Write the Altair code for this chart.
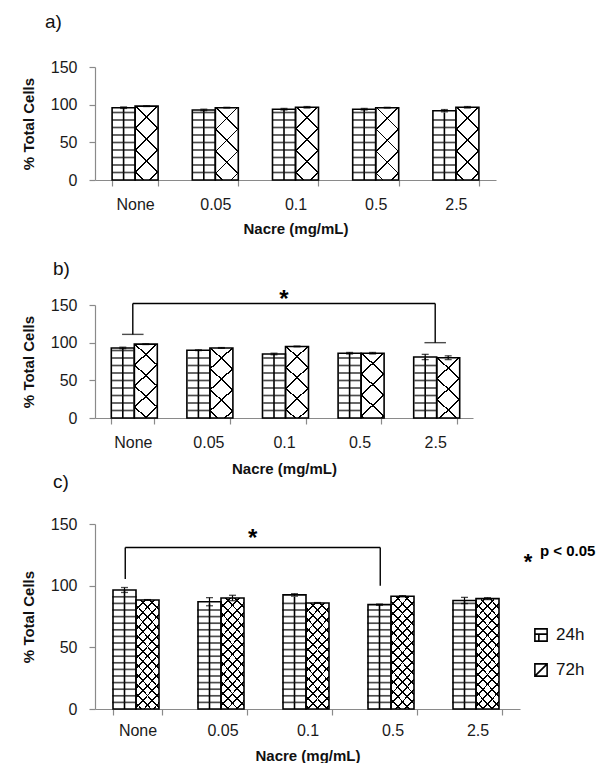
import math
import altair as alt

# ---------------- data ----------------
CATS = ["None", "0.05", "0.1", "0.5", "2.5"]
SERIES = ["24h", "72h"]

A_24 = [96, 93, 94, 94, 92]
A_24_ERR = [1, 1, 1, 1, 1.5]
A_72 = [98, 96, 96.5, 96, 96.5]
A_72_ERR = [0.5, 0.5, 1, 0.5, 1]

B_24 = [93, 90, 85, 86, 81]
B_24_ERR = [1, 0.5, 1, 1, 3.5]
B_72 = [98, 93, 95, 86, 80]
B_72_ERR = [0.5, 0.5, 0.5, 1, 2.5]

C_24 = [96.5, 87, 92.5, 84.6, 88]
C_24_ERR = [2, 3.3, 1, 0.5, 2.5]
C_72 = [88.4, 90, 86, 91.4, 89.5]
C_72_ERR = [0.3, 2.2, 0.3, 0.5, 0.8]

# significance brackets: start cat, end cat, bracket level, left drop, right drop, star level
B_SIG = ["None", "2.5", 152, 111, 100, 163]
C_SIG = ["None", "0.5", 131, 105.5, 100, 142]

Y_MAX = 150
Y_TICKS = [0, 50, 100, 150]
X_TITLE = "Nacre (mg/mL)"
Y_TITLE = "% Total Cells"
P_NOTE = "p < 0.05"
STAR = "*"

# ---------------- style ----------------
FONT = "Liberation Sans"
GRAY = "#8a8a8a"
CLEAR = "rgba(255,255,255,0)"


def stop(o, c):
    return {"offset": round(min(max(o, 0), 1), 5), "color": c}


def diag_grad(w, h, sp, lw, rising, bg):
    """Diagonal hatch lines (45 degrees) as a linear gradient with hard stops."""
    a = w * (w + h) / (w * w + h * h)
    L = w + h
    if rising:
        x1, y1, x2, y2 = 0, 1, a, 1 - a * h / w
        pos = (h + w) % sp
    else:
        x1, y1, x2, y2 = 0, 0, a, a * h / w
        pos = 0.0
    d = lw * 1.4142 / L / 2
    stops = [stop(0, bg)]
    while pos < L + sp:
        t = pos / L
        if t - d < 1:
            stops += [stop(t - d, bg), stop(t - d, "black"), stop(t + d, "black"), stop(t + d, bg)]
        pos += sp
    stops.append(stop(1, bg))
    return {"gradient": "linear", "x1": x1, "y1": y1, "x2": round(x2, 5), "y2": round(y2, 5),
            "stops": stops}


def make_panel(v24, e24, v72, e72, width, height, group_px, brick_row, hatch_sp,
               label, label_dx, title_offset, lab_pad, tit_pad, sig=None, sig_shift=0.0,
               caps=False, extra=None):
    step = width / len(CATS)
    pi = 1 - group_px / step
    bw = group_px / 2
    rh = brick_row * Y_MAX / height  # brick course height in data units

    rows, mortar, joints = [], [], []
    for i, c in enumerate(CATS):
        for s, vals, errs in (("24h", v24, e24), ("72h", v72, e72)):
            v, e = vals[i], errs[i]
            h = v * height / Y_MAX
            if s == "24h":
                g1, g2 = "white", CLEAR
                k = 0
                while k * rh < v - 0.3 * rh:
                    top = min((k + 1) * rh, v)
                    if k > 0:
                        mortar.append({"cat": c, "series": s, "y": k * rh})
                    joints.append({"cat": c, "series": s, "y": k * rh, "y2": top, "odd": k % 2})
                    k += 1
            else:
                g1 = diag_grad(bw, h, hatch_sp, 1.35, False, "white")
                g2 = diag_grad(bw, h, hatch_sp, 1.35, True, CLEAR)
            rows.append({"cat": c, "series": s, "value": v, "lo": v - e, "hi": v + e,
                         "g1": g1, "g2": g2})

    xsc = alt.Scale(domain=CATS, paddingInner=pi, paddingOuter=pi / 2)
    xax = alt.Axis(tickBand="extent", labelAngle=0, labelPadding=lab_pad, titlePadding=tit_pad)

    def X(f):
        return alt.X(f"{f}:N", scale=xsc, axis=xax, title=X_TITLE)

    ysc = alt.Scale(domain=[0, Y_MAX], nice=False, zero=True)
    yax = alt.Axis(values=Y_TICKS)

    def Y(f):
        return alt.Y(f"{f}:Q", scale=ysc, axis=yax, title=Y_TITLE, stack=None)

    XO = alt.XOffset("series:N", scale=alt.Scale(domain=SERIES, paddingInner=0, paddingOuter=0))

    base = alt.Chart(alt.Data(values=rows))
    mort = alt.Chart(alt.Data(values=mortar))
    jnt = alt.Chart(alt.Data(values=joints))
    layers = [
        base.mark_bar(strokeWidth=0).encode(x=X("cat"), xOffset=XO, y=Y("value"),
                                            fill=alt.Fill("g1:N", scale=None)),
        mort.mark_tick(color="black", orient="horizontal", size=bw, thickness=1.7).encode(
            x=X("cat"), xOffset=XO, y=Y("y")),
        jnt.transform_filter("datum.odd == 0").mark_rule(
            color="black", strokeWidth=1.6, xOffset=-0.2 * bw).encode(
            x=X("cat"), xOffset=XO, y=Y("y"), y2=alt.Y2("y2")),
        jnt.transform_filter("datum.odd == 1").mark_rule(
            color="black", strokeWidth=1.6, xOffset=0.24 * bw).encode(
            x=X("cat"), xOffset=XO, y=Y("y"), y2=alt.Y2("y2")),
        base.mark_bar(stroke="black", strokeWidth=1.6).encode(
            x=X("cat"), xOffset=XO, y=Y("value"), fill=alt.Fill("g2:N", scale=None)),
        base.mark_rule(color="black", strokeWidth=1.2).encode(
            x=X("cat"), xOffset=XO, y=Y("lo"), y2=alt.Y2("hi")),
        base.mark_tick(color="black", orient="horizontal", size=7, thickness=1.3).encode(
            x=X("cat"), xOffset=XO, y=Y("hi")),
        base.mark_tick(color="black", orient="horizontal", size=7, thickness=1.3).encode(
            x=X("cat"), xOffset=XO, y=Y("lo")),
    ]

    if sig is not None:
        c0, c1, top, d0, d1, star = sig
        hd = alt.Data(values=[{"a": c0, "b": c1, "y": top}])
        layers.append(alt.Chart(hd).mark_rule(color="black", strokeWidth=1.4, xOffset=sig_shift,
                                              x2Offset=sig_shift).encode(
            x=X("a"), x2=alt.X2("b"), y=Y("y")))
        vd = alt.Data(values=[{"c": c0, "top": top, "drop": d0}, {"c": c1, "top": top, "drop": d1}])
        layers.append(alt.Chart(vd).mark_rule(color="black", strokeWidth=1.4, xOffset=sig_shift).encode(
            x=X("c"), y=Y("top"), y2=alt.Y2("drop")))
        if caps:
            layers.append(alt.Chart(vd).mark_tick(color="black", orient="horizontal", size=group_px / 2,
                                                  thickness=1.4, xOffset=sig_shift).encode(
                x=X("c"), y=Y("drop")))
        mid = (CATS.index(c0) + CATS.index(c1)) / 2
        mcat = CATS[int(math.floor(mid))]
        sdx = (mid - math.floor(mid)) * step + sig_shift
        sd = alt.Data(values=[{"c": mcat, "y": star, "t": STAR}])
        layers.append(alt.Chart(sd).mark_text(fontSize=24, fontWeight="bold", font=FONT, dx=sdx, dy=5,
                                              baseline="middle", color="black").encode(
            x=X("c"), y=Y("y"), text="t:N"))

    if extra:
        layers += extra

    return alt.layer(*layers).properties(
        width=width, height=height,
        title=alt.TitleParams(label, anchor="start", frame="group", dx=label_dx,
                              offset=title_offset, fontSize=19, font=FONT,
                              fontWeight="normal", color="#111"))


# legend & note for panel c (pixel offsets relative to the plot area)
ICON_24 = "M-1,-1H1V1H-1Z M-1,-0.15H1 M-0.35,-0.15V1"
ICON_72 = "M-1,-1H1V1H-1Z M-1,1L1,-1"
one = alt.Data(values=[{"s": SERIES[0]}])
two = alt.Data(values=[{"s": SERIES[1]}])
star_d = alt.Data(values=[{"t": STAR, "p": P_NOTE}])
c_extra = [
    alt.Chart(one).mark_point(shape=ICON_24, size=150, filled=False, stroke="black",
                              strokeWidth=1.6, opacity=1).encode(x=alt.value(446), y=alt.value(111)),
    alt.Chart(two).mark_point(shape=ICON_72, size=150, filled=False, stroke="black",
                              strokeWidth=1.6, opacity=1).encode(x=alt.value(446), y=alt.value(146)),
    alt.Chart(one).mark_text(align="left", baseline="middle", fontSize=17, font=FONT,
                             color="#111").encode(x=alt.value(461), y=alt.value(111), text="s:N"),
    alt.Chart(two).mark_text(align="left", baseline="middle", fontSize=17, font=FONT,
                             color="#111").encode(x=alt.value(461), y=alt.value(146), text="s:N"),
    alt.Chart(star_d).mark_text(align="center", baseline="middle", fontSize=22, fontWeight="bold",
                                font=FONT, color="black").encode(x=alt.value(433), y=alt.value(38),
                                                                 text="t:N"),
    alt.Chart(star_d).mark_text(align="left", baseline="middle", fontSize=15, fontWeight="bold",
                                font=FONT, color="black").encode(x=alt.value(445), y=alt.value(27),
                                                                 text="p:N"),
]

c_label = alt.Data(values=[{"t": "c)"}])
b_extra = [
    alt.Chart(c_label).mark_text(align="left", baseline="middle", fontSize=19, font=FONT,
                                 color="#111").encode(x=alt.value(-42), y=alt.value(177), text="t:N"),
]

pa = make_panel(A_24, A_24_ERR, A_72, A_72_ERR, width=401, height=113, group_px=46,
                brick_row=7.5, hatch_sp=22, label="a)", label_dx=-50, title_offset=27,
                lab_pad=10, tit_pad=9)
pb = make_panel(B_24, B_24_ERR, B_72, B_72_ERR, width=378, height=113, group_px=43,
                brick_row=7.5, hatch_sp=21, label="b)", label_dx=-42, title_offset=9,
                lab_pad=10, tit_pad=11, sig=B_SIG, sig_shift=0.0, caps=True, extra=b_extra)
pc = make_panel(C_24, C_24_ERR, C_72, C_72_ERR, width=425, height=185, group_px=49,
                brick_row=6.6, hatch_sp=9.8, label="", label_dx=0, title_offset=0,
                lab_pad=7, tit_pad=10, sig=C_SIG, sig_shift=-12.25, extra=c_extra)

chart = alt.vconcat(pa, pb, pc, spacing=24).properties(
    padding={"left": 13, "top": 5, "right": 0, "bottom": 0}
).configure_view(stroke=None).configure_axis(
    domainColor=GRAY, tickColor=GRAY, tickSize=6, domainWidth=1.2, tickWidth=1.2,
    labelFont=FONT, titleFont=FONT, labelFontSize=16, labelColor="#1a1a1a",
    titleFontSize=15, titleFontWeight="bold", titleColor="#111", grid=False
).configure_axisY(labelPadding=12, titlePadding=14)

chart.save("out.html", embed_options={"renderer": "svg", "actions": False})
